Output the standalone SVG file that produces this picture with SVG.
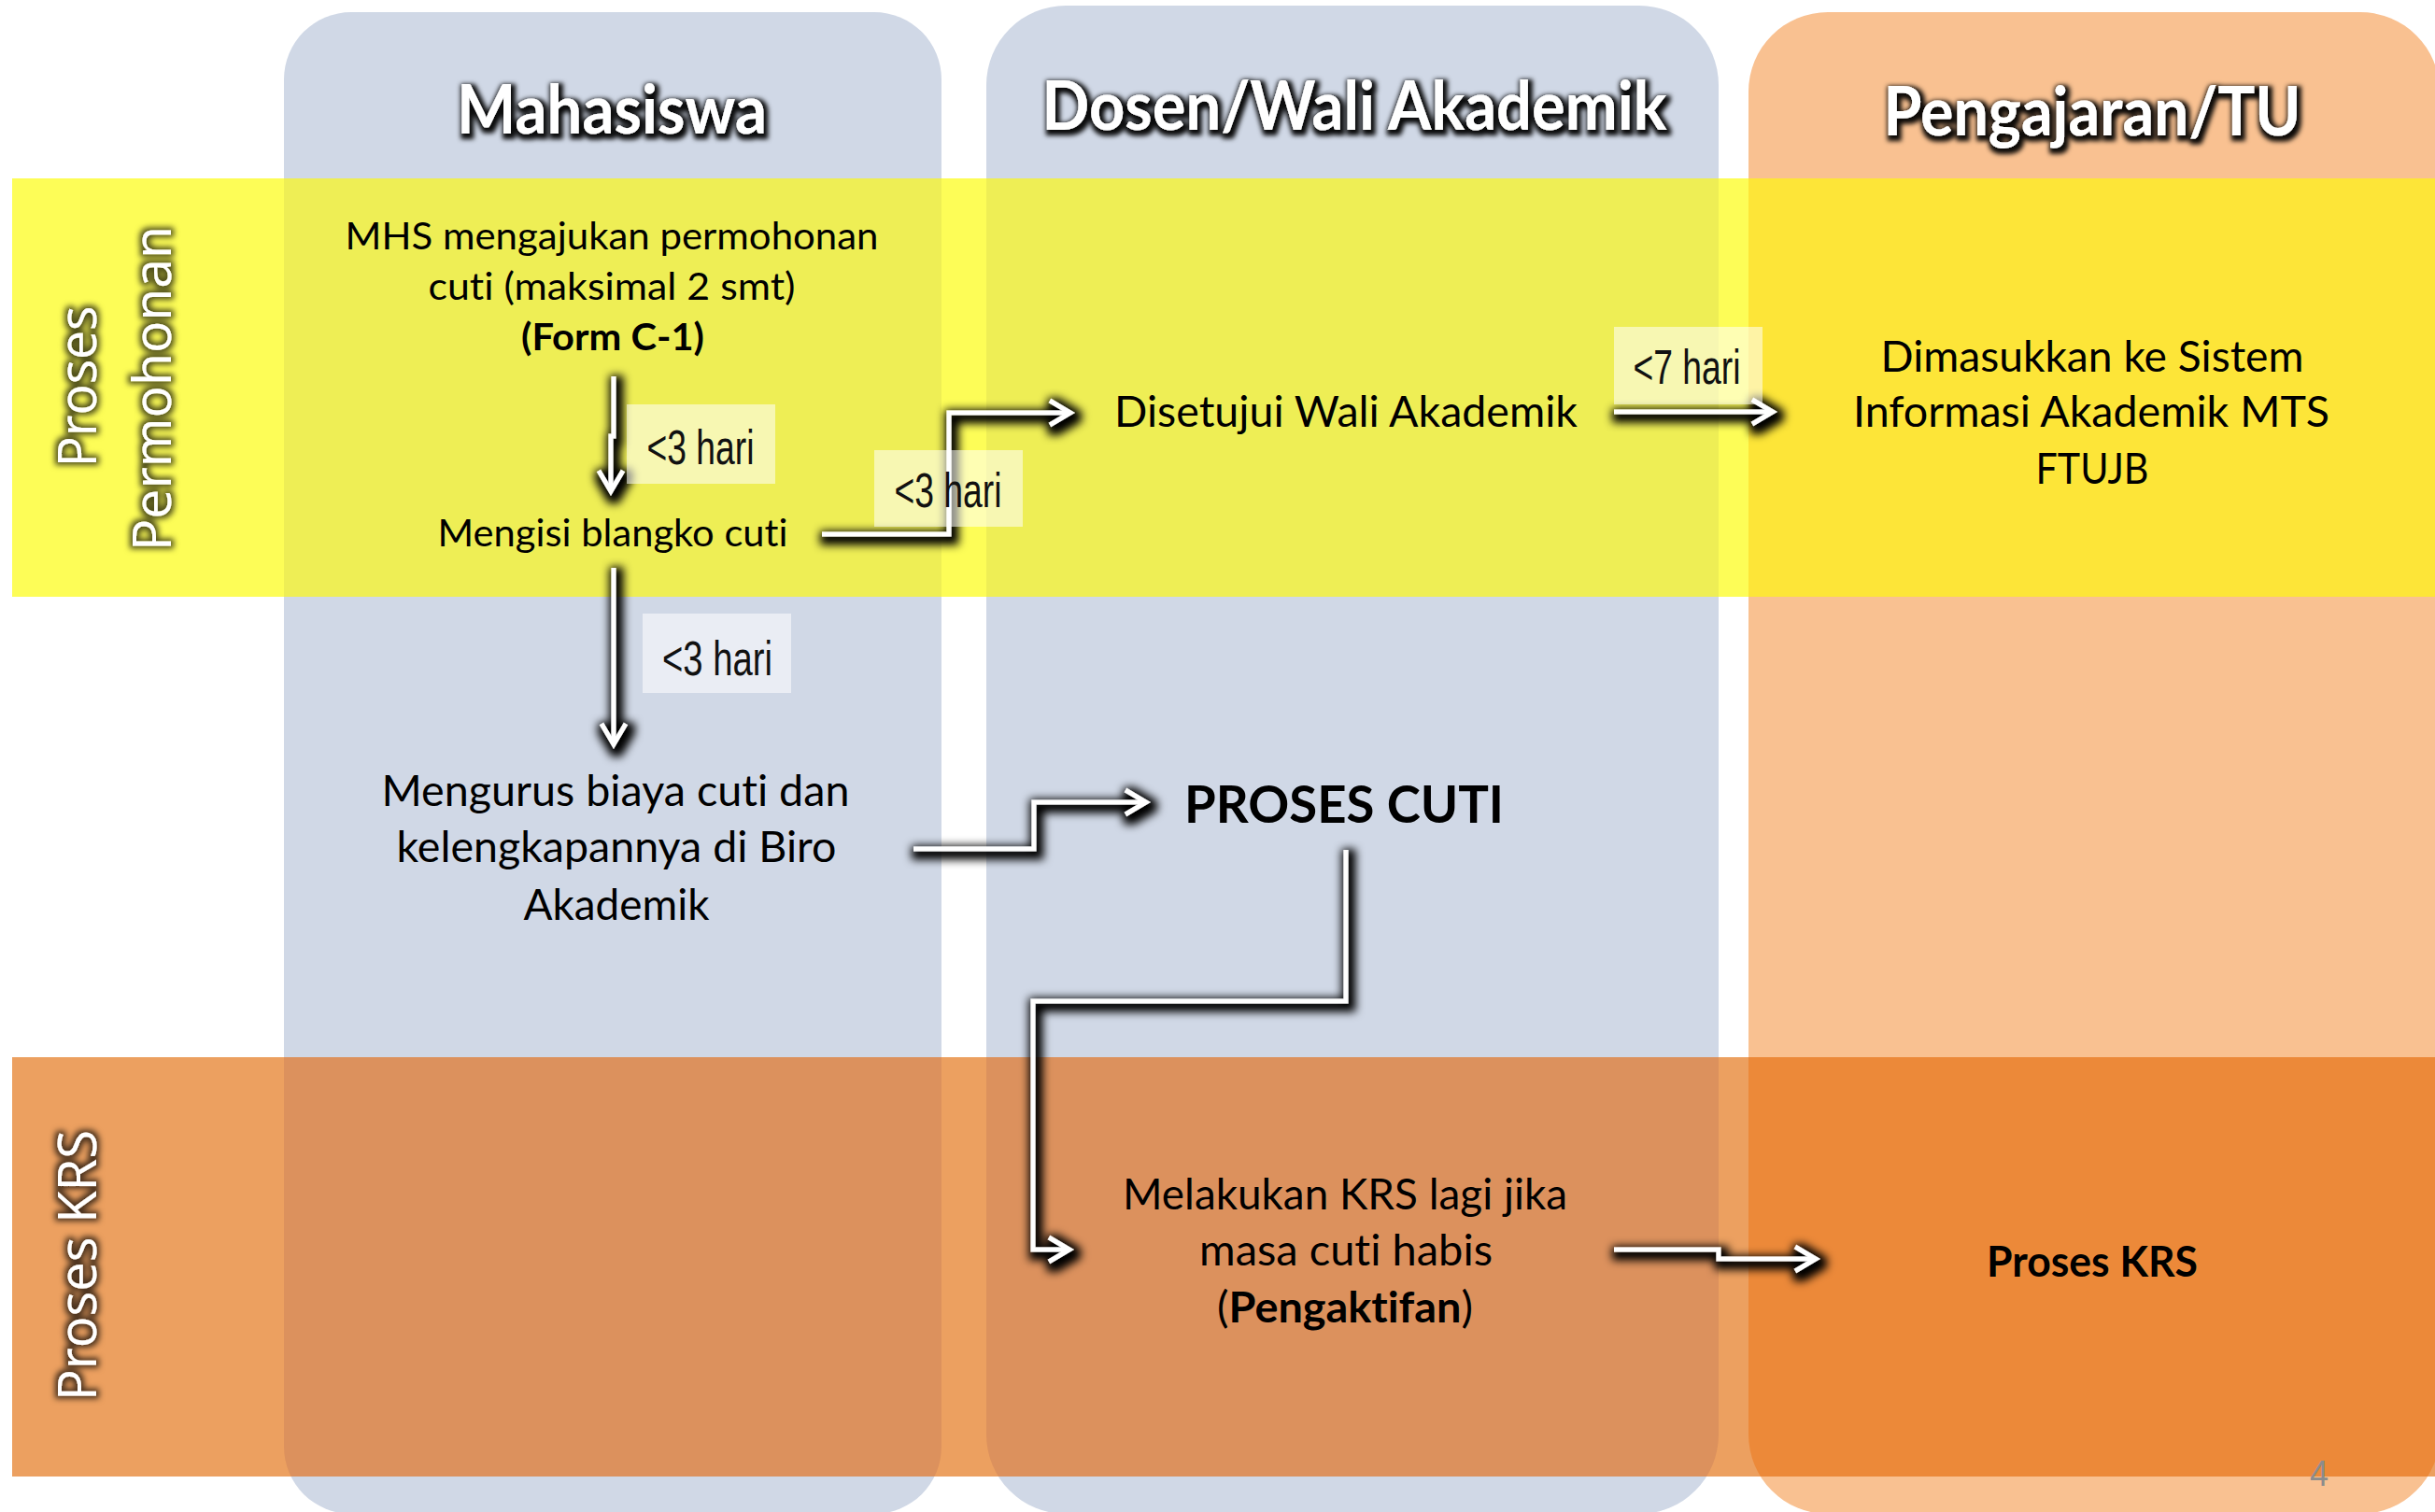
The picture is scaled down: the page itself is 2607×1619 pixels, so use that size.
<svg xmlns="http://www.w3.org/2000/svg" width="2607" height="1619" viewBox="0 0 2607 1619">
<defs>
<style>
.hdr{font-family:Lato,"Open Sans",sans-serif;font-weight:700;font-size:73px;fill:#fff;text-anchor:middle}
.row{font-family:"Open Sans","DejaVu Sans",sans-serif;font-size:57px;fill:#fff;text-anchor:middle}
.t{font-family:Lato,"Liberation Sans",sans-serif;fill:#000;text-anchor:middle;font-variant-ligatures:none}
.s41{font-size:41px}
.s46{font-size:45.5px}
.b{font-weight:700}
.lbl{font-family:"Liberation Sans",Arial,sans-serif;font-size:52px;fill:#111;text-anchor:middle}
.box{fill:#fff;fill-opacity:0.55}
.conn{fill:none;stroke:#fff;stroke-width:5;stroke-linejoin:miter}
.colB{fill:#D0D8E6}
.colP{fill:#F9C191}
</style>
<marker id="ah" markerUnits="userSpaceOnUse" orient="auto" refX="0" refY="0" markerWidth="40" markerHeight="40" style="overflow:visible">
<path d="M-22,-13 L0,0 L-22,13" fill="none" stroke="#fff" stroke-width="5"/>
</marker>
<filter id="hglow" filterUnits="userSpaceOnUse" x="0" y="0" width="2607" height="1619">
<feMorphology in="SourceAlpha" operator="dilate" radius="3" result="d"/>
<feGaussianBlur in="d" stdDeviation="2.5" result="b"/>
<feOffset in="b" dx="2" dy="3" result="o"/>
<feFlood flood-color="#000" flood-opacity="0.95"/>
<feComposite in2="o" operator="in" result="s"/>
<feMerge><feMergeNode in="s"/><feMergeNode in="SourceGraphic"/></feMerge>
</filter>
<filter id="rglow" filterUnits="userSpaceOnUse" x="0" y="0" width="2607" height="1619">
<feMorphology in="SourceAlpha" operator="dilate" radius="2.5" result="d"/>
<feGaussianBlur in="d" stdDeviation="3" result="b"/>
<feFlood flood-color="#000" flood-opacity="0.7"/>
<feComposite in2="b" operator="in" result="s"/>
<feMerge><feMergeNode in="s"/><feMergeNode in="SourceGraphic"/></feMerge>
</filter>
<filter id="cshadow" filterUnits="userSpaceOnUse" x="0" y="0" width="2607" height="1619">
<feMorphology in="SourceAlpha" operator="dilate" radius="5" result="d"/>
<feGaussianBlur in="d" stdDeviation="5" result="b"/>
<feOffset in="b" dx="3" dy="4" result="o"/>
<feFlood flood-color="#000" flood-opacity="1"/>
<feComposite in2="o" operator="in" result="s"/>
<feMerge><feMergeNode in="s"/><feMergeNode in="SourceGraphic"/></feMerge>
</filter>
<clipPath id="cpBlue">
<rect x="304" y="13" width="704" height="1608" rx="72" ry="72"/>
<rect x="1056" y="6" width="784" height="1615" rx="85" ry="85"/>
</clipPath>
<clipPath id="cpPeach">
<rect x="1872" y="13" width="740" height="1608" rx="85" ry="85"/>
</clipPath>
</defs>

<rect x="0" y="0" width="2607" height="1619" fill="#fff"/>

<g id="lanes">
<rect class="colB" x="304" y="13" width="704" height="1608" rx="72" ry="72"/>
<rect class="colB" x="1056" y="6" width="784" height="1615" rx="85" ry="85"/>
<rect class="colP" x="1872" y="13" width="740" height="1608" rx="85" ry="85"/>
</g>

<g id="bands">
<rect x="13" y="191" width="2594" height="448" fill="#FDFD57"/>
<rect x="13" y="191" width="2594" height="448" fill="#EEEE55" clip-path="url(#cpBlue)"/>
<rect x="13" y="191" width="2594" height="448" fill="#FDE538" clip-path="url(#cpPeach)"/>
<rect x="13" y="1132" width="2594" height="449" fill="#ECA060"/>
<rect x="13" y="1132" width="2594" height="449" fill="#DC915D" clip-path="url(#cpBlue)"/>
<rect x="13" y="1132" width="2594" height="449" fill="#EC8939" clip-path="url(#cpPeach)"/>
</g>

<g id="headers" filter="url(#hglow)">
<text class="hdr" x="655" y="143" textLength="332" lengthAdjust="spacingAndGlyphs">Mahasiswa</text>
<text class="hdr" x="1450" y="139" textLength="669" lengthAdjust="spacingAndGlyphs">Dosen/Wali Akademik</text>
<text class="hdr" x="2240" y="145" textLength="447" lengthAdjust="spacingAndGlyphs">Pengajaran/TU</text>
</g>

<g id="row-labels" filter="url(#rglow)">
<text class="row" transform="translate(103,414) rotate(-90)" textLength="173" lengthAdjust="spacingAndGlyphs">Proses</text>
<text class="row" transform="translate(183,416) rotate(-90)" textLength="348" lengthAdjust="spacingAndGlyphs">Permohonan</text>
<text class="row" transform="translate(103,1355) rotate(-90)" textLength="290" lengthAdjust="spacingAndGlyphs">Proses KRS</text>
</g>

<g id="connectors" filter="url(#cshadow)">
<path class="conn" d="M657,403 V467 H654 V526" marker-end="url(#ah)"/>
<path class="conn" d="M880,572 H1016 V442 H1146" marker-end="url(#ah)"/>
<path class="conn" d="M1728,441 H1898" marker-end="url(#ah)"/>
<path class="conn" d="M657,608 V797" marker-end="url(#ah)"/>
<path class="conn" d="M978,909 H1107 V859 H1227" marker-end="url(#ah)"/>
<path class="conn" d="M1441,910 V1072 H1106 V1338 H1145" marker-end="url(#ah)"/>
<path class="conn" d="M1728,1338 H1840 V1348 H1944" marker-end="url(#ah)"/>
</g>

<g id="lbl1">
<rect class="box" x="671" y="433" width="159" height="85"/>
<text class="lbl" x="750" y="497" textLength="115" lengthAdjust="spacingAndGlyphs">&lt;3 hari</text>
</g>
<g id="lbl2">
<rect class="box" x="936" y="482" width="159" height="82"/>
<text class="lbl" x="1015" y="543" textLength="115" lengthAdjust="spacingAndGlyphs">&lt;3 hari</text>
</g>
<g id="lbl3">
<rect class="box" x="688" y="657" width="159" height="85"/>
<text class="lbl" x="768" y="723" textLength="118" lengthAdjust="spacingAndGlyphs">&lt;3 hari</text>
</g>
<g id="lbl4">
<rect class="box" x="1728" y="350" width="159" height="83"/>
<text class="lbl" x="1806" y="411" textLength="115" lengthAdjust="spacingAndGlyphs">&lt;7 hari</text>
</g>

<g id="n-mhs">
<text class="t s41" x="655" y="267" textLength="571" lengthAdjust="spacingAndGlyphs">MHS mengajukan permohonan</text>
<text class="t s41" x="655" y="321" textLength="393" lengthAdjust="spacingAndGlyphs">cuti (maksimal 2 smt)</text>
<text class="t s41 b" x="656" y="375" textLength="196" lengthAdjust="spacingAndGlyphs">(Form C-1)</text>
</g>
<g id="n-mengisi">
<text class="t s41" x="656" y="585" textLength="375" lengthAdjust="spacingAndGlyphs">Mengisi blangko cuti</text>
</g>
<g id="n-disetujui">
<text class="t s46" x="1441" y="457" textLength="496" lengthAdjust="spacingAndGlyphs">Disetujui Wali Akademik</text>
</g>
<g id="n-dimasukkan">
<text class="t s46" x="2240" y="398" textLength="453" lengthAdjust="spacingAndGlyphs">Dimasukkan ke Sistem</text>
<text class="t s46" x="2239" y="457" textLength="510" lengthAdjust="spacingAndGlyphs">Informasi Akademik MTS</text>
<text class="t s46" x="2240" y="518" textLength="121" lengthAdjust="spacingAndGlyphs">FTUJB</text>
</g>
<g id="n-mengurus">
<text class="t s46" x="659" y="863" textLength="501" lengthAdjust="spacingAndGlyphs">Mengurus biaya cuti dan</text>
<text class="t s46" x="660" y="923" textLength="471" lengthAdjust="spacingAndGlyphs">kelengkapannya di Biro</text>
<text class="t s46" x="660" y="985" textLength="199" lengthAdjust="spacingAndGlyphs">Akademik</text>
</g>
<g id="n-proses-cuti">
<text class="t b" font-size="55" x="1439" y="881" textLength="342" lengthAdjust="spacingAndGlyphs">PROSES CUTI</text>
</g>
<g id="n-melakukan">
<text class="t s46" x="1440" y="1295" textLength="476" lengthAdjust="spacingAndGlyphs">Melakukan KRS lagi jika</text>
<text class="t s46" x="1441" y="1355" textLength="314" lengthAdjust="spacingAndGlyphs">masa cuti habis</text>
<text class="t s46" x="1440" y="1416" textLength="274" lengthAdjust="spacingAndGlyphs">(<tspan class="b">Pengaktifan</tspan>)</text>
</g>
<g id="n-proses-krs">
<text class="t b" font-size="46" x="2240" y="1367" textLength="226" lengthAdjust="spacingAndGlyphs">Proses KRS</text>
</g>
<text x="2483" y="1591" font-family="Liberation Sans, Arial, sans-serif" font-size="38" fill="#8C8C8C" text-anchor="middle" textLength="20" lengthAdjust="spacingAndGlyphs">4</text>
</svg>
